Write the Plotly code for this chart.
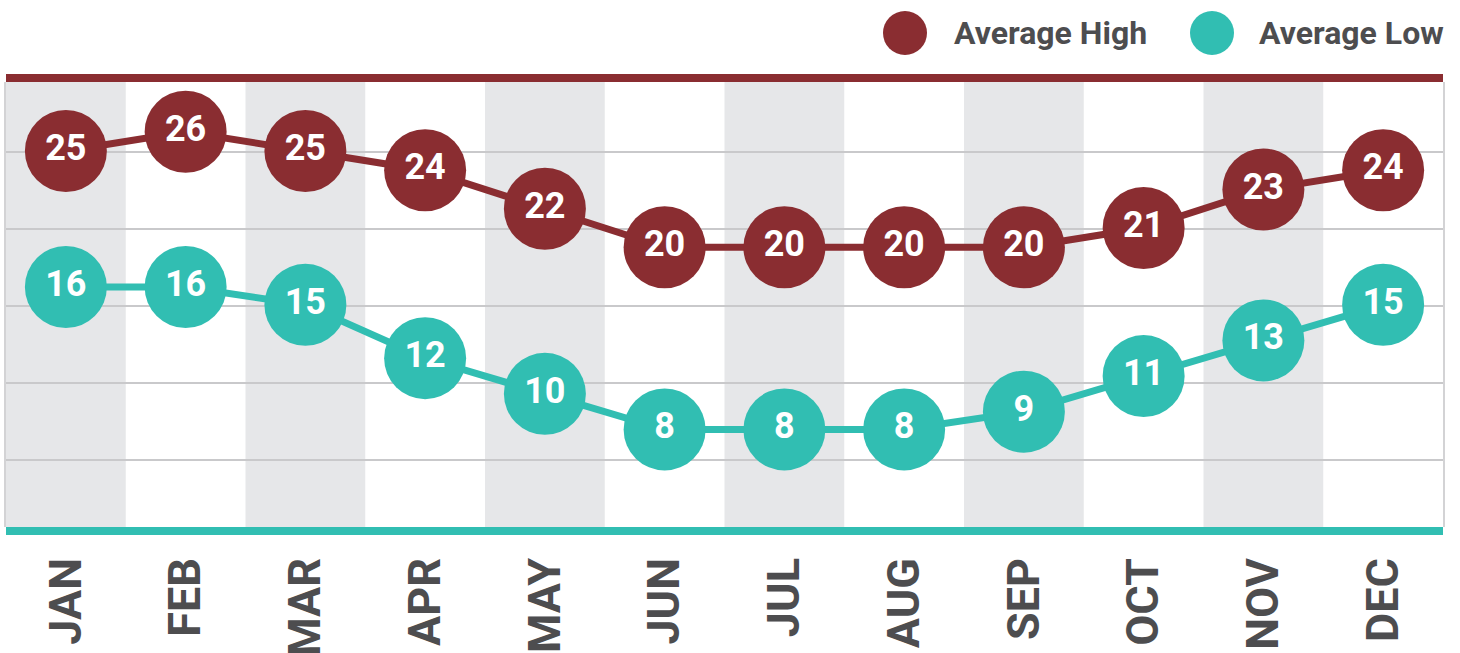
import plotly.graph_objects as go

months = ["JAN", "FEB", "MAR", "APR", "MAY", "JUN", "JUL", "AUG", "SEP", "OCT", "NOV", "DEC"]
avg_high = [25, 26, 25, 24, 22, 20, 20, 20, 20, 21, 23, 24]
avg_low = [16, 16, 15, 12, 10, 8, 8, 8, 9, 11, 13, 15]
series_names = ["Average High", "Average Low"]

RED = "#8A2D31"
TEAL = "#31BEB2"
GRAY_TXT = "#4D4D4F"
SHADE = "#E6E7E9"
W, H = 1460, 653
L, R, T, B = 6, 17, 82, 126
PH = H - T - B
PW = W - L - R

fig = go.Figure()

fig.add_trace(go.Scatter(
    x=months, y=avg_high, name=series_names[0], yaxis="y",
    mode="lines+markers+text",
    line=dict(color=RED, width=7),
    marker=dict(color=RED, size=82),
    text=[str(v) for v in avg_high], textposition="middle center",
    textfont=dict(family="Roboto", size=36, color="white", weight=700),
    showlegend=False, cliponaxis=False,
))
fig.add_trace(go.Scatter(
    x=months, y=avg_low, name=series_names[1], yaxis="y2",
    mode="lines+markers+text",
    line=dict(color=TEAL, width=7),
    marker=dict(color=TEAL, size=82),
    text=[str(v) for v in avg_low], textposition="middle center",
    textfont=dict(family="Roboto", size=36, color="white", weight=700),
    showlegend=False, cliponaxis=False,
))

shapes = []
for i in range(0, len(months), 2):
    shapes.append(dict(type="rect", xref="x", yref="paper", x0=i - 0.5, x1=i + 0.5,
                       y0=0, y1=1, fillcolor=SHADE, line=dict(width=0), layer="below"))
# top and bottom colour bars
shapes.append(dict(type="rect", xref="paper", yref="paper", x0=0, x1=1,
                   y0=1, y1=1 + 8 / PH, fillcolor=RED, line=dict(width=0), layer="above"))
shapes.append(dict(type="rect", xref="paper", yref="paper", x0=0, x1=1,
                   y0=-8 / PH, y1=0, fillcolor=TEAL, line=dict(width=0), layer="above"))

# legend (manual, large circles)
leg_y = (H - B - 33) / PH
annotations = []
for name, col, cx, tx in [(series_names[0], RED, 905, 952), (series_names[1], TEAL, 1212, 1257)]:
    shapes.append(dict(type="circle", xref="paper", yref="paper",
                       xsizemode="pixel", ysizemode="pixel",
                       xanchor=(cx - L) / PW, yanchor=leg_y,
                       x0=-22, x1=22, y0=-22, y1=22,
                       fillcolor=col, line=dict(width=0)))
    annotations.append(dict(xref="paper", yref="paper", x=(tx - L) / PW, y=leg_y,
                            xanchor="left", yanchor="middle", showarrow=False, text=name,
                            font=dict(family="Roboto", size=32, color=GRAY_TXT, weight=700)))

# y mappings (pixel slope per unit fitted to the picture)
hi_px = 19.25
hi_top = 25 + (151 - T) / hi_px
hi_bot = 25 - (H - B - 151) / hi_px
lo_px = 17.81
lo_top = 16 + (287 - T) / lo_px
lo_bot = 16 - (H - B - 287) / lo_px

fig.update_layout(
    width=W, height=H,
    margin=dict(l=L, r=R, t=T, b=B, pad=0, autoexpand=False),
    paper_bgcolor="white", plot_bgcolor="white",
    shapes=shapes, annotations=annotations,
    xaxis=dict(type="category", range=[-0.5, 11.5], showgrid=False, zeroline=False,
               tickangle=-90, ticks="outside", ticklen=12, tickcolor="rgba(0,0,0,0)",
               tickfont=dict(family="Roboto", size=45, color=GRAY_TXT, weight=700),
               showline=False, fixedrange=True, automargin=False),
    yaxis=dict(range=[hi_bot, hi_top], tick0=25 - 1 / hi_px - 24, dtick=4, showgrid=True,
               gridcolor="#C9C9CB", gridwidth=2, zeroline=False, showticklabels=False,
               showline=True, mirror=True, linecolor="#D3D3D5", linewidth=2,
               automargin=False),
    yaxis2=dict(range=[lo_bot, lo_top], overlaying="y", showgrid=False, zeroline=False,
                showticklabels=False, visible=False),
    showlegend=False,
)

fig.write_html("out.html", config={"displayModeBar": False},
               post_script="document.body.style.margin='0';document.body.style.overflow='hidden';")
